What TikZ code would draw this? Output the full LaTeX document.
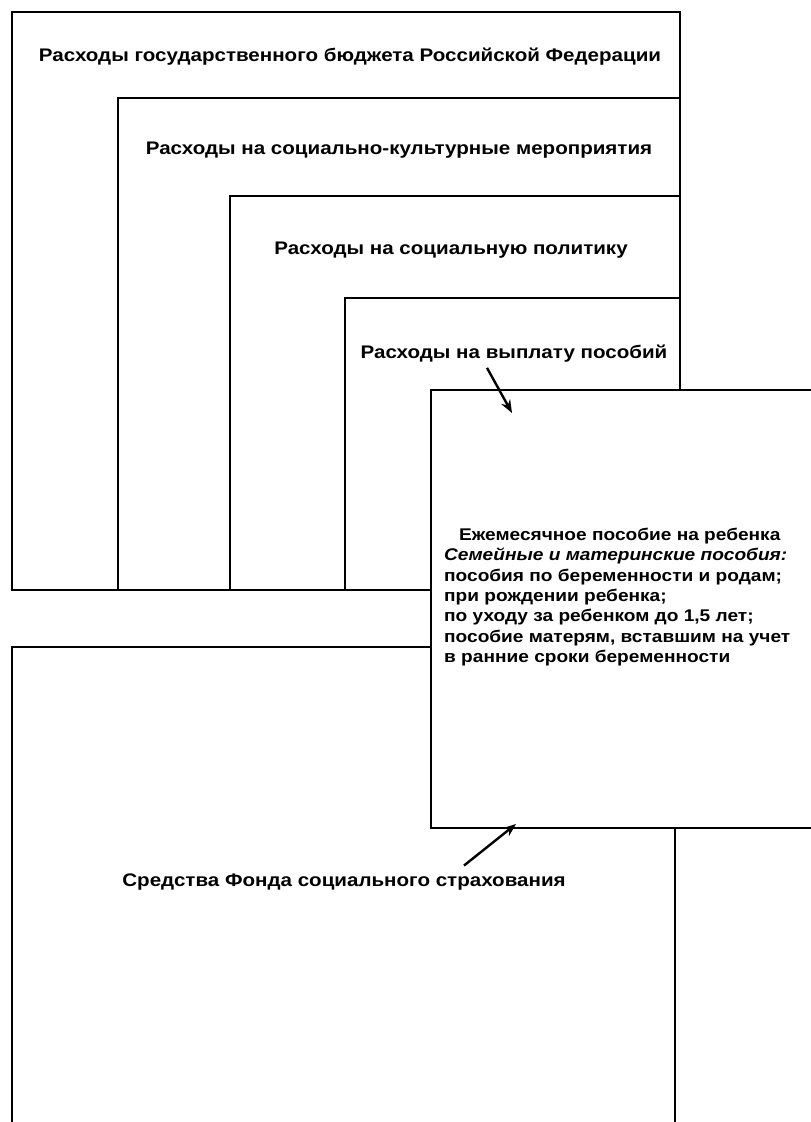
\documentclass[tikz,border=0pt]{standalone}
\usepackage{fontspec}
\setmainfont[FakeStretch=1.13]{Liberation Sans}
\usetikzlibrary{arrows.meta,positioning}
\tikzset{
  frm/.style={draw=black, line width=1.8pt},
  hdr/.style={font=\bfseries\fontsize{18.2}{20}\selectfont, inner sep=0pt},
  lst/.style={font=\bfseries\fontsize{16.9}{20.3}\selectfont, align=left, inner sep=0pt},
  ptr/.style={-{Stealth[length=13pt, width=10pt]}, line width=2.4pt},
}

\begin{document}
\begin{tikzpicture}[x=1pt, y=-1pt]
    \useasboundingbox[fill=white] (0,0) rectangle (811,1122);
    % nested expense frames
    \draw[frm] (12,12) rectangle (680,590);
    \draw[frm] (118,98) rectangle (680,590);
    \draw[frm] (230,196) rectangle (680,590);
    \draw[frm] (345,298) rectangle (680,590);
    % fund frame, runs off the page
    \draw[frm] (12,647) rectangle (675,1140);
    % benefits frame on top
    \draw[frm, fill=white] (431,390) rectangle (816,828);

    \node[hdr] (budget) at (350,57) {Расходы государственного бюджета Российской Федерации};
    \node[hdr] (culture) at (399,150) {Расходы на социально-культурные мероприятия};
    \node[hdr] (policy) at (451,250) {Расходы на социальную политику};
    \node[hdr] (payout) at (514,354) {Расходы на выплату пособий};
    \node[lst, anchor=north west] (benefits) at (444,528) {%
      \hspace*{15pt}Ежемесячное пособие на ребенка\\
      \textit{Семейные и материнские пособия:}\\
      пособия по беременности и родам;\\
      при рождении ребенка;\\
      по уходу за ребенком до 1,5 лет;\\
      пособие матерям, вставшим на учет\\
      в ранние сроки беременности};
    \node[hdr] (fund) at (344,882) {Средства Фонда социального страхования};

    \coordinate (payin) at (512,413);
    \coordinate (fundin) at (516,824);
    \draw[ptr] ([xshift=-27pt, yshift=-5pt]payout.south) -- (payin);
    \draw[ptr] ([xshift=120pt, yshift=8pt]fund.north) -- (fundin);
\end{tikzpicture}
\end{document}
